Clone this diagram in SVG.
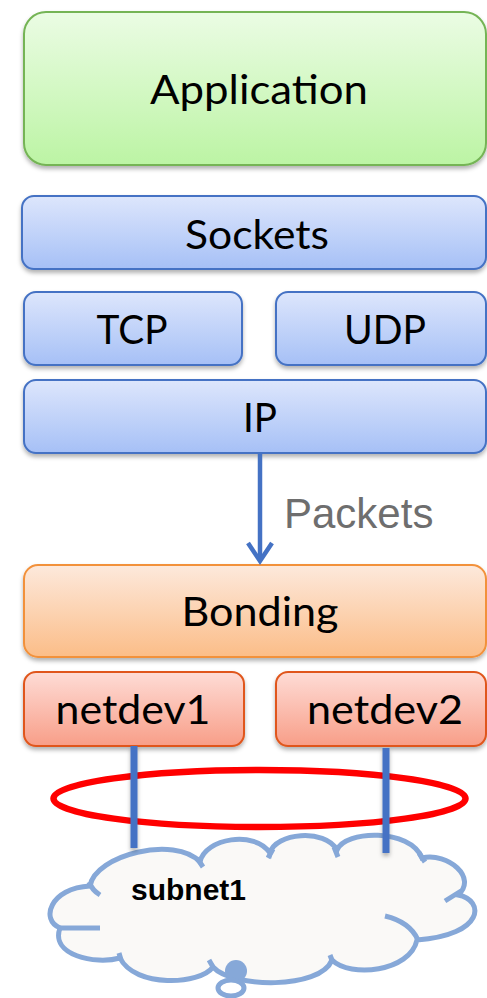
<svg xmlns="http://www.w3.org/2000/svg" width="487" height="998" viewBox="0 0 487 998">
  <defs>
    <linearGradient id="gGreen" x1="0" y1="0" x2="0" y2="1">
      <stop offset="0" stop-color="#ebfce4"/>
      <stop offset="1" stop-color="#bcf4a4"/>
    </linearGradient>
    <linearGradient id="gBlue" x1="0" y1="0" x2="0" y2="1">
      <stop offset="0" stop-color="#dde6fc"/>
      <stop offset="1" stop-color="#a6c0f6"/>
    </linearGradient>
    <linearGradient id="gOrange" x1="0" y1="0" x2="0" y2="1">
      <stop offset="0" stop-color="#fde9dc"/>
      <stop offset="1" stop-color="#fbbd88"/>
    </linearGradient>
    <linearGradient id="gRed" x1="0" y1="0" x2="0" y2="1">
      <stop offset="0" stop-color="#fedcd6"/>
      <stop offset="1" stop-color="#f89e88"/>
    </linearGradient>
    <filter id="shadow" x="-10%" y="-10%" width="120%" height="140%">
      <feDropShadow dx="0" dy="3" stdDeviation="2" flood-color="#000" flood-opacity="0.3"/>
    </filter>
    <filter id="wireShadow" x="-100%" y="-10%" width="300%" height="130%">
      <feDropShadow dx="0" dy="3" stdDeviation="2" flood-color="#000" flood-opacity="0.3"/>
    </filter>
  </defs>
  <style>
    .lbl { font-family: "Lato", "Liberation Sans", sans-serif; font-size: 41px; fill: #000; text-anchor: middle; }
    .green { fill: url(#gGreen); stroke: #74b455; stroke-width: 2; filter: url(#shadow); }
    .blue { fill: url(#gBlue); stroke: #4472c4; stroke-width: 2; filter: url(#shadow); }
    .orange { fill: url(#gOrange); stroke: #f2913b; stroke-width: 2; filter: url(#shadow); }
    .red { fill: url(#gRed); stroke: #e0561c; stroke-width: 2; filter: url(#shadow); }
    .cloudline { fill: none; stroke: #86a8d8; stroke-width: 5; stroke-linecap: butt; }
    .wire { fill: #4472c4; filter: url(#wireShadow); }
    .flow { fill: none; stroke: #4472c4; stroke-width: 4.5; }
  </style>

  <!-- protocol stack -->
  <g id="application">
    <rect class="green" x="24" y="12" width="462" height="153" rx="22"/>
    <text class="lbl" x="259" y="104" textLength="218" lengthAdjust="spacingAndGlyphs">Application</text>
  </g>
  <g id="sockets">
    <rect class="blue" x="22" y="196" width="464" height="73" rx="12"/>
    <text class="lbl" x="257" y="249" textLength="144" lengthAdjust="spacingAndGlyphs">Sockets</text>
  </g>
  <g id="tcp">
    <rect class="blue" x="24" y="292" width="218" height="73" rx="12"/>
    <text class="lbl" x="132" y="344" textLength="71" lengthAdjust="spacingAndGlyphs">TCP</text>
  </g>
  <g id="udp">
    <rect class="blue" x="276" y="292" width="210" height="73" rx="12"/>
    <text class="lbl" x="385" y="344" textLength="82" lengthAdjust="spacingAndGlyphs">UDP</text>
  </g>
  <g id="ip">
    <rect class="blue" x="24" y="380" width="462" height="73" rx="12"/>
    <text class="lbl" x="260" y="432" textLength="34" lengthAdjust="spacingAndGlyphs">IP</text>
  </g>
  <g id="bonding">
    <rect class="orange" x="24" y="565" width="462" height="92" rx="14"/>
    <text class="lbl" x="260" y="626" textLength="157" lengthAdjust="spacingAndGlyphs">Bonding</text>
  </g>
  <g id="netdev1">
    <rect class="red" x="24" y="672" width="220" height="74" rx="12"/>
    <text class="lbl" x="133" y="724" textLength="155" lengthAdjust="spacingAndGlyphs">netdev1</text>
  </g>
  <g id="netdev2">
    <rect class="red" x="276" y="672" width="210" height="74" rx="12"/>
    <text class="lbl" x="385" y="724" textLength="156" lengthAdjust="spacingAndGlyphs">netdev2</text>
  </g>

  <!-- network cloud -->
  <g id="subnet1">
    <path d="M90,886 C95,855 175,835 200,862 C205,838 255,830 270,853 C275,833 325,828 337,850 C345,830 410,828 422,858 C448,852 478,878 458,895 C485,900 485,935 417,940 C410,972 350,978 332,960 C320,990 232,988 213,967 C200,985 135,988 120,958 C95,965 50,955 60,928 C40,920 50,888 90,886 Z" fill="#faf9f7" stroke="#86a8d8" stroke-width="5"/>
    <path class="cloudline" d="M89,882 Q92,890 100,895 M197,858 L203,867 M273,849 L268,858 M334,847 L338,857 M419,853 L425,862 M461,891 L445,901 M385,916 Q410,922 418,940 M333,963 L330,955 M213,967 L209,960 M121,960 L119,953 M60,928 L100,928"/>
    <circle cx="236" cy="971" r="11" fill="#86a8d8"/>
    <ellipse cx="231" cy="988" rx="13" ry="8" fill="none" stroke="#86a8d8" stroke-width="5"/>
    <text x="131" y="900" font-family="Liberation Sans, Arial, sans-serif" font-weight="bold" font-size="30" fill="#000">subnet1</text>
  </g>

  <!-- connectors -->
  <g id="connectors">
    <path class="flow" d="M260,453 V560"/>
    <path class="flow" d="M248,543 L260,561 L272,543" stroke-linejoin="miter"/>
    <text x="284" y="528" font-family="Liberation Sans, Arial, sans-serif" font-size="42" fill="#6e6e6e">Packets</text>
    <ellipse cx="259.5" cy="798.5" rx="206" ry="28.5" fill="none" stroke="#ff0000" stroke-width="6.5"/>
    <rect class="wire" x="130.5" y="746" width="7" height="102"/>
    <rect class="wire" x="382.5" y="748" width="7" height="105"/>
  </g>
</svg>
